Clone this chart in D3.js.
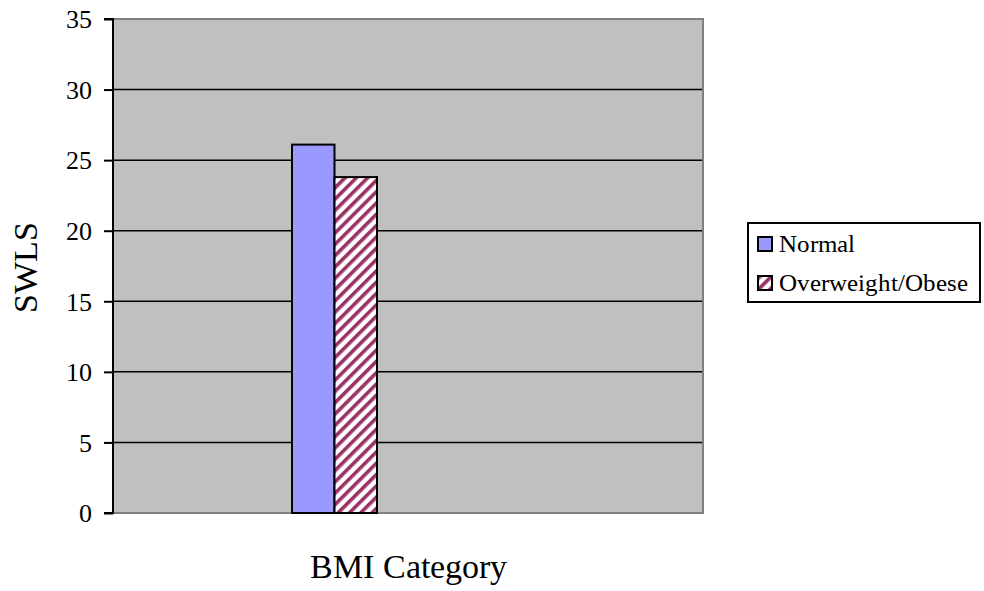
<!DOCTYPE html>
<html>
<head>
<meta charset="utf-8">
<script src="https://cdn.jsdelivr.net/npm/d3@7"></script>
<style>
  @font-face { font-family: "ChartSerif"; src: local("Liberation Serif"), local("LiberationSerif"), local("Tinos"), local("Times New Roman"); }
  body { margin: 0; }
  #chart text { font-family: "ChartSerif", "Liberation Serif", "Times New Roman", serif; }
</style>
</head>
<body>
<svg id="chart" width="984" height="591"></svg>
<script>
// SWLS mean scores by BMI category
const categories = ["BMI Category"];
const seriesNames = ["Normal", "Overweight/Obese"];
const normalValues = [26.1];
const overweightValues = [23.8];
const yTicks = [0, 5, 10, 15, 20, 25, 30, 35];

const svg = d3.select("#chart");
const plot = { left: 113, right: 703, top: 19, bottom: 513 };

const y = d3.scaleLinear().domain([0, 35]).range([plot.bottom, plot.top]);
const x0 = d3.scaleBand().domain(categories).range([plot.left, plot.right]).paddingInner(0).paddingOuter(0);
const x1 = d3.scaleBand().domain(seriesNames).range([292 - plot.left, 377 - plot.left]);

// hatch pattern for the second series
const defs = svg.append("defs");
const pat = defs.append("pattern")
  .attr("id", "hatch")
  .attr("patternUnits", "userSpaceOnUse")
  .attr("width", 8).attr("height", 8)
  .attr("patternTransform", "rotate(45)");
pat.append("rect").attr("width", 8).attr("height", 8).attr("fill", "#ffffff");
pat.append("rect").attr("width", 3.6).attr("height", 8).attr("fill", "#993366");

const fills = { "Normal": "#9999ff", "Overweight/Obese": "url(#hatch)" };

// plot background
svg.append("rect")
  .attr("x", plot.left).attr("y", plot.top)
  .attr("width", plot.right - plot.left).attr("height", plot.bottom - plot.top)
  .attr("fill", "#c0c0c0");

// gridlines
svg.append("g").selectAll("line")
  .data(yTicks.filter(d => d > 0 && d < 35))
  .join("line")
  .attr("x1", plot.left).attr("x2", plot.right)
  .attr("y1", d => y(d)).attr("y2", d => y(d))
  .attr("stroke", "#000").attr("stroke-width", 1.5);

// plot frame (top/right/bottom)
svg.append("path")
  .attr("d", `M${plot.left},${plot.top}H${plot.right}V${plot.bottom}H${plot.left}`)
  .attr("fill", "none").attr("stroke", "#808080").attr("stroke-width", 2);

// bars
const rows = categories.map((c, i) => ({ cat: c, vals: [
  { key: "Normal", value: normalValues[i] },
  { key: "Overweight/Obese", value: overweightValues[i] }
]}));

svg.append("g").selectAll("g")
  .data(rows).join("g")
  .attr("transform", d => `translate(${x0(d.cat)},0)`)
  .selectAll("rect")
  .data(d => d.vals).join("rect")
  .attr("x", d => x1(d.key))
  .attr("y", d => y(d.value))
  .attr("width", x1.bandwidth())
  .attr("height", d => y(0) - y(d.value))
  .attr("fill", d => fills[d.key])
  .attr("stroke", "#000").attr("stroke-width", 2);

// y axis
const yAxis = d3.axisLeft(y).tickValues(yTicks).tickSize(9).tickPadding(12).tickFormat(d3.format("d"));
const ya = svg.append("g").attr("transform", `translate(${plot.left},0)`).call(yAxis)
  .attr("font-family", null).attr("font-size", 26);
ya.select(".domain").attr("stroke", "#000").attr("stroke-width", 2)
  .attr("d", `M-9,${plot.top}H0V${plot.bottom}H-9`);
ya.selectAll(".tick line").attr("stroke", "#000").attr("stroke-width", 2);
ya.selectAll(".tick text").attr("fill", "#000").attr("dy", "0.34em");

// axis titles
svg.append("text")
  .attr("transform", `translate(37,267) rotate(-90)`)
  .attr("text-anchor", "middle")
  .attr("font-size", 34)
  .text("SWLS");

svg.append("text")
  .attr("x", (plot.left + plot.right) / 2).attr("y", 578)
  .attr("text-anchor", "middle")
  .attr("font-size", 34)
  .text(categories[0]);

// legend
const lg = svg.append("g");
lg.append("rect")
  .attr("x", 748).attr("y", 223).attr("width", 232).attr("height", 79)
  .attr("fill", "#fff").attr("stroke", "#000").attr("stroke-width", 2);
const items = lg.selectAll("g.item").data(seriesNames).join("g")
  .attr("class", "item")
  .attr("transform", (d, i) => `translate(758,${237 + i * 39})`);
items.append("rect")
  .attr("width", 14).attr("height", 14)
  .attr("fill", d => fills[d])
  .attr("stroke", "#000").attr("stroke-width", 2);
items.append("text")
  .attr("x", 21).attr("y", 15)
  .attr("font-size", 25)
  .text(d => d);
</script>
</body>
</html>
